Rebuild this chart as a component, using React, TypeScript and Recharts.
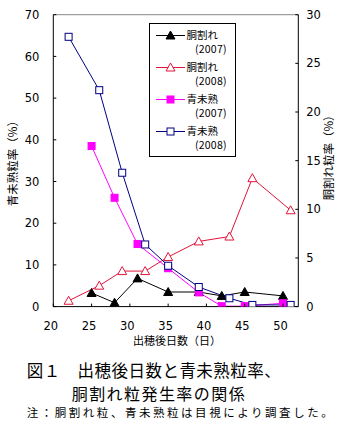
import React from 'react';
import { LineChart, Line, XAxis, YAxis, Legend, ReferenceLine } from 'recharts';

// ---- data ----
const DAYS_2007 = [25, 28, 31, 35, 39, 42, 45, 50];
const DAYS_2008 = [22, 26, 29, 32, 35, 39, 43, 46, 51];
const DOWARE_2007 = [1.4, 0.4, 2.9, 1.5, 1.5, 1.1, 1.5, 1.1];
const DOWARE_2008 = [0.6, 2.15, 3.65, 3.65, 5.1, 6.7, 7.2, 13.2, 9.9];
const AOMI_2007 = [38.5, 26.1, 15.0, 9.2, 3.4, 0.1, 0.1, 0.8];
const AOMI_2008 = [64.7, 51.9, 32.1, 14.9, 9.8, 4.7, 2.0, 0.4, 0.4];

const X_TICKS = [20, 25, 30, 35, 40, 45, 50];
const LEFT_TICKS = [0, 10, 20, 30, 40, 50, 60, 70];
const RIGHT_TICKS = [0, 5, 10, 15, 20, 25, 30];

const SERIES_NAMES = ['胴割れ', '胴割れ', '青未熟', '青未熟'];
const SERIES_YEARS = ['(2007)', '(2008)', '(2007)', '(2008)'];

const X_TITLE = '出穂後日数（日）';
const LEFT_TITLE = '青未熟粒率（%）';
const RIGHT_TITLE = '胴割れ粒率（%）';
const CAPTION1 = '図１　出穂後日数と青未熟粒率、';
const CAPTION2 = '胴割れ粒発生率の関係';
const NOTE = '注：胴割れ粒、青未熟粒は目視により調査した。';

const toRows = (xs: number[], ys: number[]) => xs.map((x, i) => ({ x, y: ys[i] }));
const d07 = toRows(DAYS_2007, DOWARE_2007);
const d08 = toRows(DAYS_2008, DOWARE_2008);
const a07 = toRows(DAYS_2007, AOMI_2007);
const a08 = toRows(DAYS_2008, AOMI_2008);

const RED = '#e0143c';
const NAVY = '#000080';
const MAGENTA = '#ff00ff';
const TICK_FONT = 'DejaVu Sans, sans-serif';
const JP_FONT = '"Noto Sans CJK JP", sans-serif';

type MarkerKind = 'triFilled' | 'triOpen' | 'sqFilled' | 'sqOpen';
const COLORS = ['#000', RED, MAGENTA, NAVY];
const KINDS: MarkerKind[] = ['triFilled', 'triOpen', 'sqFilled', 'sqOpen'];

function Marker({ cx, cy, kind, color }: { cx: number; cy: number; kind: MarkerKind; color: string }) {
  if (cx == null || cy == null) return null;
  if (kind === 'triFilled' || kind === 'triOpen') {
    const pts = `${cx},${cy - 4.5} ${cx - 4.5},${cy + 3.5} ${cx + 4.5},${cy + 3.5}`;
    return (
      <polygon
        points={pts}
        fill={kind === 'triFilled' ? color : '#fff'}
        stroke={color}
        strokeWidth={1}
      />
    );
  }
  return (
    <rect
      x={cx - 3.5}
      y={cy - 3.5}
      width={7}
      height={7}
      fill={kind === 'sqFilled' ? color : '#fff'}
      stroke={color}
      strokeWidth={1}
    />
  );
}

const makeDot = (i: number) => (props: any) => (
  <Marker key={`d${i}-${props.index}`} cx={props.cx} cy={props.cy} kind={KINDS[i]} color={COLORS[i]} />
);

const LeftTick = (p: any) => {
  const { x, y, payload } = p;
  return (
    <g>
      <line x1={x + 14} x2={x + 17} y1={y} y2={y} stroke="#000" />
      <text x={x} y={y} dy="0.36em" textAnchor="end" fontSize={11.5} fontFamily={TICK_FONT} fill="#000">
        {payload.value}
      </text>
    </g>
  );
};

const RightTick = (p: any) => {
  const { x, y, payload } = p;
  return (
    <g>
      <line x1={x - 8} x2={x - 11} y1={y} y2={y} stroke="#000" />
      <text x={x} y={y} dy="0.36em" textAnchor="start" fontSize={11.5} fontFamily={TICK_FONT} fill="#000">
        {payload.value}
      </text>
    </g>
  );
};

const BottomTick = (p: any) => {
  const { x, y, payload } = p;
  return (
    <g>
      <line x1={x} x2={x} y1={y} y2={y - 3} stroke="#000" />
      <text x={x - 2.5} y={y + 19} dy="0.36em" textAnchor="middle" fontSize={11.5} fontFamily={TICK_FONT} fill="#000">
        {payload.value}
      </text>
    </g>
  );
};

const LegendBox = () => (
  <svg width={88} height={135} style={{ display: 'block' }}>
    <rect x={0.5} y={0.5} width={86} height={133} fill="#fff" stroke="#000" />
    {SERIES_NAMES.map((name, i) => {
      const cy = 12.5 + i * 32;
      return (
        <g key={i}>
          <line x1={7} x2={36} y1={cy} y2={cy} stroke={COLORS[i]} />
          <Marker cx={21.5} cy={cy} kind={KINDS[i]} color={COLORS[i]} />
          <text
            x={37.5}
            y={cy}
            dy="0.36em"
            fontSize={10.5}
            fontFamily={JP_FONT}
            fill="#000"
            textLength={31.5}
            lengthAdjust="spacing"
          >
            {name}
          </text>
          <text
            x={46}
            y={cy + 14}
            dy="0.36em"
            fontSize={10.5}
            fontFamily={JP_FONT}
            fill="#000"
            textLength={31.5}
            lengthAdjust="spacing"
          >
            {SERIES_YEARS[i]}
          </text>
        </g>
      );
    })}
  </svg>
);

export default function App() {
  return (
    <div style={{ position: 'absolute', left: 0, top: 0, width: 350, height: 432, background: '#fff' }}>
      <LineChart
        width={350}
        height={350}
        margin={{ top: 14.7, right: 11.7, bottom: 3.4, left: 0 }}
        style={{ position: 'absolute', left: 0, top: 0 }}
      >
        <XAxis
          xAxisId="x"
          dataKey="x"
          type="number"
          domain={[20, 52]}
          ticks={X_TICKS}
          interval={0}
          height={40}
          tickSize={0}
          tickMargin={0}
          tickLine={false}
          axisLine={{ stroke: '#000' }}
          tick={<BottomTick />}
          allowDataOverflow
        />
        <YAxis
          yAxisId="left"
          orientation="left"
          type="number"
          domain={[0, 70]}
          ticks={LEFT_TICKS}
          interval={0}
          width={53.3}
          tickSize={0}
          tickMargin={14}
          tickLine={false}
          axisLine={{ stroke: '#000' }}
          tick={<LeftTick />}
          allowDataOverflow
        />
        <YAxis
          yAxisId="right"
          orientation="right"
          type="number"
          domain={[0, 30]}
          ticks={RIGHT_TICKS}
          interval={0}
          width={40}
          tickSize={0}
          tickMargin={8}
          tickLine={false}
          axisLine={{ stroke: '#000' }}
          tick={<RightTick />}
          allowDataOverflow
        />
        <ReferenceLine xAxisId="x" yAxisId="left" y={70} stroke="#888" strokeWidth={1} />
        <Legend
          layout="horizontal"
          verticalAlign="middle"
          align="center"
          content={() => <LegendBox />}
          wrapperStyle={{ position: 'absolute', left: 149, top: 23, width: 88, height: 135 }}
        />
        <Line
          xAxisId="x"
          yAxisId="right"
          data={d07}
          dataKey="y"
          name="胴割れ(2007)"
          stroke="#000"
          strokeWidth={1}
          dot={makeDot(0)}
          activeDot={false}
          isAnimationActive={false}
        />
        <Line
          xAxisId="x"
          yAxisId="right"
          data={d08}
          dataKey="y"
          name="胴割れ(2008)"
          stroke={RED}
          strokeWidth={1}
          dot={makeDot(1)}
          activeDot={false}
          isAnimationActive={false}
        />
        <Line
          xAxisId="x"
          yAxisId="left"
          data={a07}
          dataKey="y"
          name="青未熟(2007)"
          stroke={MAGENTA}
          strokeWidth={1}
          dot={makeDot(2)}
          activeDot={false}
          isAnimationActive={false}
        />
        <Line
          xAxisId="x"
          yAxisId="left"
          data={a08}
          dataKey="y"
          name="青未熟(2008)"
          stroke={NAVY}
          strokeWidth={1}
          dot={makeDot(3)}
          activeDot={false}
          isAnimationActive={false}
        />
      </LineChart>
      <svg
        width={350}
        height={432}
        style={{ position: 'absolute', left: 0, top: 0, pointerEvents: 'none' }}
      >
        <text
          x={13}
          y={160.6}
          transform="rotate(-90 13 160.6)"
          textAnchor="middle"
          dy="0.36em"
          fontSize={11.5}
          fontFamily={JP_FONT}
          fill="#000"
        >
          {LEFT_TITLE}
        </text>
        <text
          x={328.5}
          y={155}
          transform="rotate(-90 328.5 155)"
          textAnchor="middle"
          dy="0.36em"
          fontSize={11.5}
          fontFamily={JP_FONT}
          fill="#000"
        >
          {RIGHT_TITLE}
        </text>
        <text x={177} y={341} dy="0.36em" textAnchor="middle" fontSize={11} fontFamily={JP_FONT} fill="#000">
          {X_TITLE}
        </text>
        <text x={26.7} y={371.5} dy="0.36em" fontSize={16.5} fontFamily={JP_FONT} fill="#000" textLength={254} lengthAdjust="spacing">
          {CAPTION1}
        </text>
        <text x={71.7} y={393.8} dy="0.36em" fontSize={16} fontFamily={JP_FONT} fill="#000" textLength={173} lengthAdjust="spacing">
          {CAPTION2}
        </text>
        <text
          x={26.7}
          y={413}
          dy="0.36em"
          fontSize={11.5}
          fontFamily={JP_FONT}
          fill="#000"
          textLength={306}
          lengthAdjust="spacing"
        >
          {NOTE}
        </text>
      </svg>
    </div>
  );
}
